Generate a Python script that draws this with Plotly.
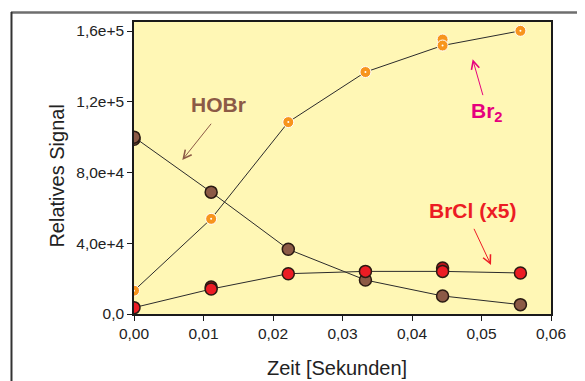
import plotly.graph_objects as go

# Data
zeit = [0.0, 0.0111, 0.0222, 0.0333, 0.0444, 0.0556]
hobr = [100000, 68900, 36600, 19200, 10200, 5300]
br2 = [13200, 53800, 108500, 136800, 151800, 160100]
brcl = [3600, 14100, 22800, 24100, 24100, 23200]

# replicate points (slightly offset, visible behind main markers)
rep_zeit_hobr = [0.0]
rep_hobr = [98800]
rep_zeit_br2 = [0.0444]
rep_br2 = [155200]
rep_zeit_brcl = [0.0111, 0.0444]
rep_brcl = [15200, 26000]

x_ticks = [0.0, 0.01, 0.02, 0.03, 0.04, 0.05, 0.06]
x_ticktext = ["0,00", "0,01", "0,02", "0,03", "0,04", "0,05", "0,06"]
y_ticks = [0, 40000, 80000, 120000, 160000]
y_ticktext = ["0,0", "4,0e+4", "8,0e+4", "1,2e+5", "1,6e+5"]

BROWN = "#8c5a46"
RED = "#ec1c24"
ORANGE = "#f7941d"
MAGENTA = "#e6007e"
FONT = "Liberation Sans, Arial, sans-serif"

fig = go.Figure()

line_style = dict(color="#2b2b2b", width=1)

# replicate markers first (behind)
fig.add_trace(go.Scatter(x=rep_zeit_hobr, y=rep_hobr, mode="markers",
                         marker=dict(size=12, color=BROWN, line=dict(color="#2a1a12", width=1.5)),
                         showlegend=False))
fig.add_trace(go.Scatter(x=rep_zeit_brcl, y=rep_brcl, mode="markers",
                         marker=dict(size=12, color="#b8141a", line=dict(color="#2a1a12", width=1.5)),
                         showlegend=False))
fig.add_trace(go.Scatter(x=rep_zeit_br2, y=rep_br2, mode="markers",
                         marker=dict(size=11, color=ORANGE, line=dict(color="white", width=1)),
                         showlegend=False))

# main series
fig.add_trace(go.Scatter(x=zeit, y=hobr, mode="lines+markers", line=line_style,
                         marker=dict(size=12, color=BROWN, line=dict(color="#2a1a12", width=1.5)),
                         name="HOBr", showlegend=False))
fig.add_trace(go.Scatter(x=zeit, y=brcl, mode="lines+markers", line=line_style,
                         marker=dict(size=12, color=RED, line=dict(color="#2a1a12", width=1.5)),
                         name="BrCl", showlegend=False))
fig.add_trace(go.Scatter(x=zeit, y=br2, mode="lines+markers", line=line_style,
                         marker=dict(size=11, color=ORANGE, line=dict(color="white", width=1)),
                         name="Br2", showlegend=False))
fig.add_trace(go.Scatter(x=zeit, y=br2, mode="markers",
                         marker=dict(size=2, color="white", line=dict(width=0)),
                         showlegend=False, hoverinfo="skip"))

txt = dict(showarrow=False, xanchor="center", yanchor="middle")
annotations = [
    dict(x=0.01209, y=118200, xref="x", yref="y", text="<b>HOBr</b>",
         font=dict(family=FONT, size=21, color=BROWN), **txt),
    dict(x=0.0508, y=114000, xref="x", yref="y", text="<b>Br<sub>2</sub></b>",
         font=dict(family=FONT, size=21, color=MAGENTA), **txt),
    dict(x=0.04878, y=58800, xref="x", yref="y", text="<b>BrCl (x5)</b>",
         font=dict(family=FONT, size=21, color=RED), **txt),
    # arrows
    dict(x=0.00695, y=87100, ax=0.01127, ay=108400, xref="x", yref="y", axref="x", ayref="y",
         text="", showarrow=True, arrowhead=5, arrowsize=1.6, arrowwidth=1, arrowcolor=BROWN),
    dict(x=0.04873, y=144000, ax=0.05026, ay=122900, xref="x", yref="y", axref="x", ayref="y",
         text="", showarrow=True, arrowhead=5, arrowsize=1.6, arrowwidth=1, arrowcolor=MAGENTA),
    dict(x=0.05137, y=27700, ax=0.04882, ay=49000, xref="x", yref="y", axref="x", ayref="y",
         text="", showarrow=True, arrowhead=5, arrowsize=1.6, arrowwidth=1, arrowcolor=RED),
    # axis titles
    dict(x=-0.1847, y=0.474, xref="paper", yref="paper", text="Relatives Signal",
         textangle=-90, font=dict(family=FONT, size=20, color="#222"), **txt),
    dict(x=0.4868, y=-0.185, xref="paper", yref="paper", text="Zeit [Sekunden]",
         font=dict(family=FONT, size=20, color="#222"), **txt),
]

shapes = [
    # outer frame: top gray line, left dark line
    dict(type="line", xref="paper", yref="paper", x0=-0.295, x1=1.2, y0=1.0325, y1=1.0325,
         line=dict(color="#6e6e6e", width=2.5)),
    dict(type="line", xref="paper", yref="paper", x0=-0.2938, x1=-0.2938, y0=1.0345, y1=-0.25,
         line=dict(color="#333", width=2)),
]

fig.update_layout(
    width=577, height=373,
    margin=dict(l=126, r=34, t=14, b=67),
    paper_bgcolor="white",
    plot_bgcolor="#fff7b5",
    font=dict(family=FONT, color="#222"),
    annotations=annotations,
    shapes=shapes,
    showlegend=False,
)
fig.update_xaxes(range=[0, 0.06], tickvals=x_ticks, ticktext=x_ticktext,
                 showgrid=False, zeroline=False, showline=True, mirror=True,
                 linecolor="#1a1a1a", linewidth=1.5, ticks="outside", ticklen=5,
                 tickcolor="#1a1a1a", tickfont=dict(family=FONT, size=15.5, color="#222"))
fig.update_yaxes(range=[0, 165100], tickvals=y_ticks, ticktext=y_ticktext,
                 showgrid=False, zeroline=False, showline=True, mirror=True,
                 linecolor="#1a1a1a", linewidth=1.5, ticks="outside", ticklen=5,
                 tickcolor="#1a1a1a", tickfont=dict(family=FONT, size=15.5, color="#222"))

fig.write_html("out.html")
